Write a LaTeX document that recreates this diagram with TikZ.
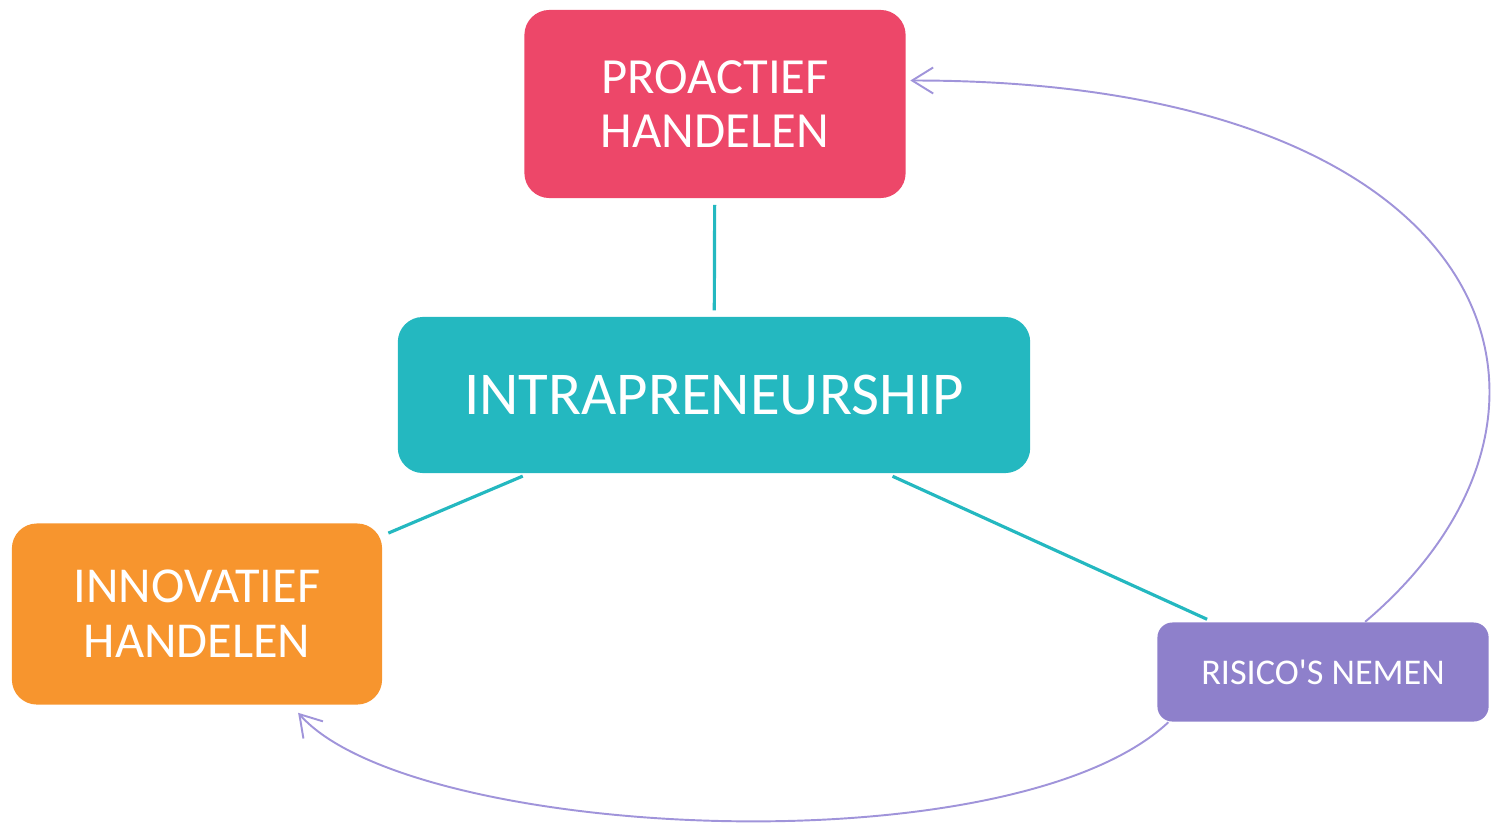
\documentclass[tikz,border=0pt]{standalone}
\usepackage{fontspec}
\setmainfont{Carlito}[Ligatures=TeXOff]
\usetikzlibrary{arrows.meta}
\definecolor{proactred}{RGB}{237,71,105}
\definecolor{intrateal}{RGB}{36,184,192}
\definecolor{innovorange}{RGB}{247,149,46}
\definecolor{risicopurple}{RGB}{142,128,203}
\definecolor{arrowpurple}{RGB}{160,148,218}
\begin{document}
\begin{tikzpicture}[x=0.01cm,y=-0.01cm,
  box/.style={rectangle,rounded corners=0.25cm,text=white,align=center,inner sep=0pt},
  link/.style={draw=intrateal,line width=0.9pt,shorten <=0.06cm,shorten >=0.06cm},
  backarrow/.style={draw=arrowpurple,line width=0.55pt,-{Straight Barb[length=2.1mm,width=2.6mm]}}]
\useasboundingbox (0,0) rectangle (1495,827);
% boxes
\node[box,fill=proactred,minimum width=3.81cm,minimum height=1.88cm,
  font=\fontsize{14.4}{15.6}\selectfont] (proact) at (715,104) {PROACTIEF\\HANDELEN};
\node[box,fill=intrateal,minimum width=6.32cm,minimum height=1.56cm,
  font=\fontsize{17.3}{18}\selectfont] (intra) at (714,395) {INTRAPRENEURSHIP};
\node[box,fill=innovorange,minimum width=3.70cm,minimum height=1.81cm,
  font=\fontsize{14.3}{15.6}\selectfont] (innov) at (197,614) {INNOVATIEF\\HANDELEN};
\node[box,fill=risicopurple,rounded corners=0.15cm,minimum width=3.31cm,minimum height=0.99cm,
  font=\fontsize{10.3}{12}\selectfont] (risico) at (1323,672) {RISICO'S NEMEN};
% links to the centre
\draw[link] (intra) -- (proact);
\draw[link] (intra) -- (innov);
\draw[link] (intra) -- (risico);
% curved arrows
\draw[backarrow,shorten >=0.04cm] (risico.50) .. controls (1615,410) and (1500,80) .. (proact.7);
\draw[backarrow,shorten >=0.1cm] (risico.198) .. controls (1010,870) and (410,840) .. (innov.-44);
\end{tikzpicture}
\end{document}
